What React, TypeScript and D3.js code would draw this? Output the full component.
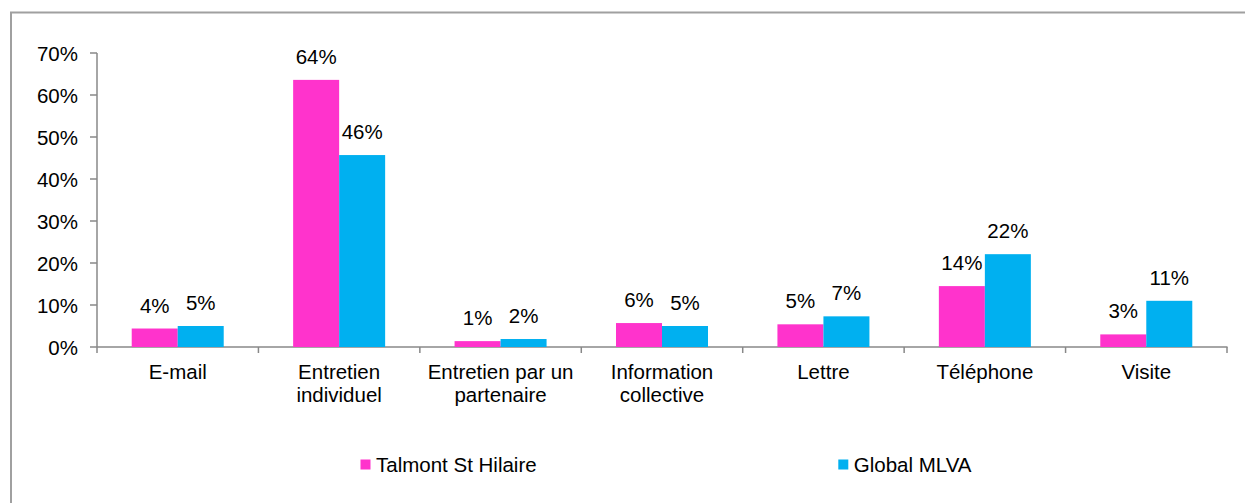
import React from "react";
import * as d3 from "d3";

const categories: string[][] = [
  ["E-mail"],
  ["Entretien", "individuel"],
  ["Entretien par un", "partenaire"],
  ["Information", "collective"],
  ["Lettre"],
  ["Téléphone"],
  ["Visite"],
];
const seriesNames = ["Talmont St Hilaire", "Global MLVA"];
const talmontValues = [0.044, 0.636, 0.014, 0.057, 0.054, 0.145, 0.03];
const globalValues = [0.05, 0.457, 0.019, 0.05, 0.073, 0.221, 0.11];
const yTicks = [0, 0.1, 0.2, 0.3, 0.4, 0.5, 0.6, 0.7];
const colors = ["#FF33CC", "#00B0F0"];

const W = 1245;
const H = 503;
const FONT = "'Liberation Sans', Arial, sans-serif";

export default function App() {
  const keys = categories.map((c) => c.join(" "));
  const x = d3.scaleBand<string>().domain(keys).range([97, 1227]).paddingInner(0).paddingOuter(0);
  const y = d3.scaleLinear().domain([0, 0.7]).range([347, 53]);
  const barW = 46;
  const series = [talmontValues, globalValues];
  const fmt = d3.format(".0%");

  return (
    <svg
      width={W}
      height={H}
      style={{ position: "absolute", left: 0, top: 0, background: "#fff" }}
      fontFamily={FONT}
    >
      <rect x={0} y={0} width={W} height={H} fill="#fff" />
      <rect x={11} y={12.5} width={W + 20} height={H + 20} fill="none" stroke="#a0a0a0" strokeWidth={2} />

      {/* y axis */}
      <line x1={97} x2={97} y1={y(0.7)} y2={y(0)} stroke="#888" strokeWidth={1.5} />
      {yTicks.map((t) => (
        <g key={t}>
          <line x1={90} x2={97} y1={y(t)} y2={y(t)} stroke="#888" strokeWidth={1.5} />
          <text x={78} y={y(t) + 8} textAnchor="end" fontSize={20.5} fill="#000">
            {fmt(t)}
          </text>
        </g>
      ))}

      {/* x axis */}
      <line x1={97} x2={1227.5} y1={y(0)} y2={y(0)} stroke="#888" strokeWidth={1.5} />
      {keys.concat(["__end"]).map((k, i) => {
        const xx = i < keys.length ? (x(k) as number) : 1227;
        return <line key={k} x1={xx} x2={xx} y1={y(0)} y2={y(0) + 6} stroke="#888" strokeWidth={1.5} />;
      })}

      {/* bars */}
      {keys.map((k, ci) => {
        const cx = (x(k) as number) + x.bandwidth() / 2;
        const sub = d3.scaleBand<number>().domain([0, 1]).range([cx - barW, cx + barW]);
        return (
          <g key={k}>
            {series.map((vals, si) => {
              const v = vals[ci];
              const bx = sub(si) as number;
              return (
                <g key={si}>
                  <rect x={bx} y={y(v)} width={sub.bandwidth()} height={y(0) - y(v)} fill={colors[si]} />
                  <text
                    x={bx + sub.bandwidth() / 2}
                    y={y(v) - 16}
                    textAnchor="middle"
                    fontSize={20.5}
                    fill="#000"
                  >
                    {fmt(v)}
                  </text>
                </g>
              );
            })}
            <text textAnchor="middle" fontSize={20.5} fill="#000">
              {categories[ci].map((line, li) => (
                <tspan key={li} x={cx} y={379 + li * 22.5}>
                  {line}
                </tspan>
              ))}
            </text>
          </g>
        );
      })}

      {/* legend */}
      {seriesNames.map((name, i) => {
        const lx = [360.5, 838.3][i];
        return (
          <g key={name}>
            <rect x={lx} y={459.5} width={10} height={10} fill={colors[i]} />
            <text x={lx + 15.5} y={471.7} fontSize={20.5} fill="#000">
              {name}
            </text>
          </g>
        );
      })}
    </svg>
  );
}
